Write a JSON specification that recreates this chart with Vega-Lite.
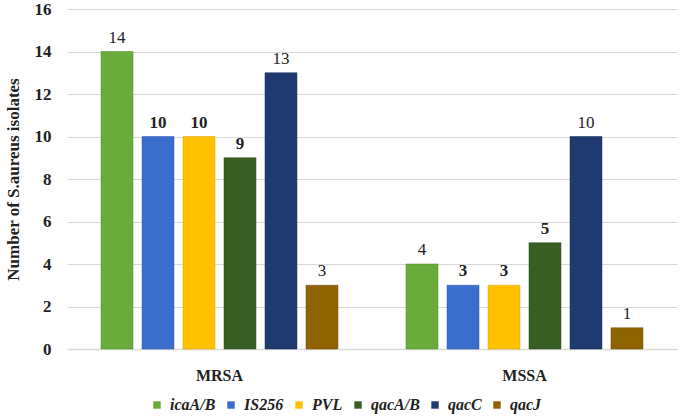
{
  "$schema": "https://vega.github.io/schema/vega-lite/v6.json",
  "width": 610,
  "height": 340,
  "padding": {"left": 4, "top": 0, "right": 5, "bottom": 2},
  "background": "white",
  "config": {
    "view": {"stroke": null},
    "font": "Liberation Serif"
  },
  "data": {
    "values": [
      {"group": "MRSA", "gene": "icaA/B", "count": 14},
      {"group": "MRSA", "gene": "IS256", "count": 10},
      {"group": "MRSA", "gene": "PVL", "count": 10},
      {"group": "MRSA", "gene": "qacA/B", "count": 9},
      {"group": "MRSA", "gene": "qacC", "count": 13},
      {"group": "MRSA", "gene": "qacJ", "count": 3},
      {"group": "MSSA", "gene": "icaA/B", "count": 4},
      {"group": "MSSA", "gene": "IS256", "count": 3},
      {"group": "MSSA", "gene": "PVL", "count": 3},
      {"group": "MSSA", "gene": "qacA/B", "count": 5},
      {"group": "MSSA", "gene": "qacC", "count": 10},
      {"group": "MSSA", "gene": "qacJ", "count": 1}
    ]
  },
  "encoding": {
    "x": {
      "field": "group",
      "type": "nominal",
      "scale": {"paddingInner": 0, "paddingOuter": 0},
      "axis": {
        "title": null,
        "labelAngle": 0,
        "labelFont": "Liberation Serif",
        "labelFontWeight": "bold",
        "labelFontSize": 16,
        "labelColor": "#222222",
        "labelPadding": 18,
        "ticks": false,
        "domainColor": "#d9d9d9",
        "domainWidth": 1.5
      }
    },
    "xOffset": {
      "field": "gene",
      "type": "nominal",
      "sort": ["icaA/B", "IS256", "PVL", "qacA/B", "qacC", "qacJ"],
      "scale": {"paddingInner": 0.22, "paddingOuter": 0.83}
    },
    "y": {
      "field": "count",
      "type": "quantitative",
      "scale": {"domain": [0, 16]},
      "axis": {
        "title": "Number  of S.aureus isolates",
        "titleFont": "Liberation Serif",
        "titleFontWeight": "bold",
        "titleFontSize": 17,
        "titleColor": "#222222",
        "titlePadding": 12,
        "labelFont": "Liberation Serif",
        "labelFontWeight": "bold",
        "labelFontSize": 17,
        "labelColor": "#222222",
        "labelPadding": 16,
        "values": [0, 2, 4, 6, 8, 10, 12, 14, 16],
        "ticks": false,
        "domain": false,
        "gridColor": "#d9d9d9",
        "gridWidth": 1.2
      }
    }
  },
  "layer": [
    {
      "mark": {"type": "bar", "strokeWidth": 1, "strokeOpacity": 0.5},
      "encoding": {
        "color": {
          "field": "gene",
          "type": "nominal",
          "sort": ["icaA/B", "IS256", "PVL", "qacA/B", "qacC", "qacJ"],
          "scale": {
            "domain": ["icaA/B", "IS256", "PVL", "qacA/B", "qacC", "qacJ"],
            "range": ["#6aac3c", "#3a6dcc", "#ffc000", "#385e23", "#1e3a70", "#8f6400"]
          },
          "legend": {
            "title": null,
            "orient": "none",
            "legendX": 82,
            "legendY": 388,
            "direction": "horizontal",
            "symbolType": "square",
            "symbolSize": 55,
            "symbolStrokeWidth": 0,
            "symbolOffset": 0,
            "labelFont": "Liberation Serif",
            "labelFontStyle": "italic",
            "labelFontWeight": "bold",
            "labelFontSize": 16,
            "labelColor": "#222222",
            "labelOffset": 5,
            "columnPadding": 7
          }
        },
        "stroke": {
          "field": "gene",
          "type": "nominal",
          "scale": {
            "domain": ["icaA/B", "IS256", "PVL", "qacA/B", "qacC", "qacJ"],
            "range": ["#4e8a2a", "#2a55a8", "#d9a300", "#2a4a1a", "#142a55", "#6e4c00"]
          },
          "legend": null
        }
      }
    },
    {
      "transform": [{"filter": "datum.gene === 'IS256' || datum.gene === 'PVL' || datum.gene === 'qacA/B'"}],
      "mark": {
        "type": "text",
        "dy": -14,
        "font": "Liberation Serif",
        "fontSize": 17,
        "fontWeight": "bold",
        "color": "#222222"
      },
      "encoding": {
        "text": {"field": "count", "type": "quantitative"}
      }
    },
    {
      "transform": [{"filter": "!(datum.gene === 'IS256' || datum.gene === 'PVL' || datum.gene === 'qacA/B')"}],
      "mark": {
        "type": "text",
        "dy": -14,
        "font": "Liberation Serif",
        "fontSize": 17,
        "color": "#222222"
      },
      "encoding": {
        "text": {"field": "count", "type": "quantitative"}
      }
    }
  ]
}
